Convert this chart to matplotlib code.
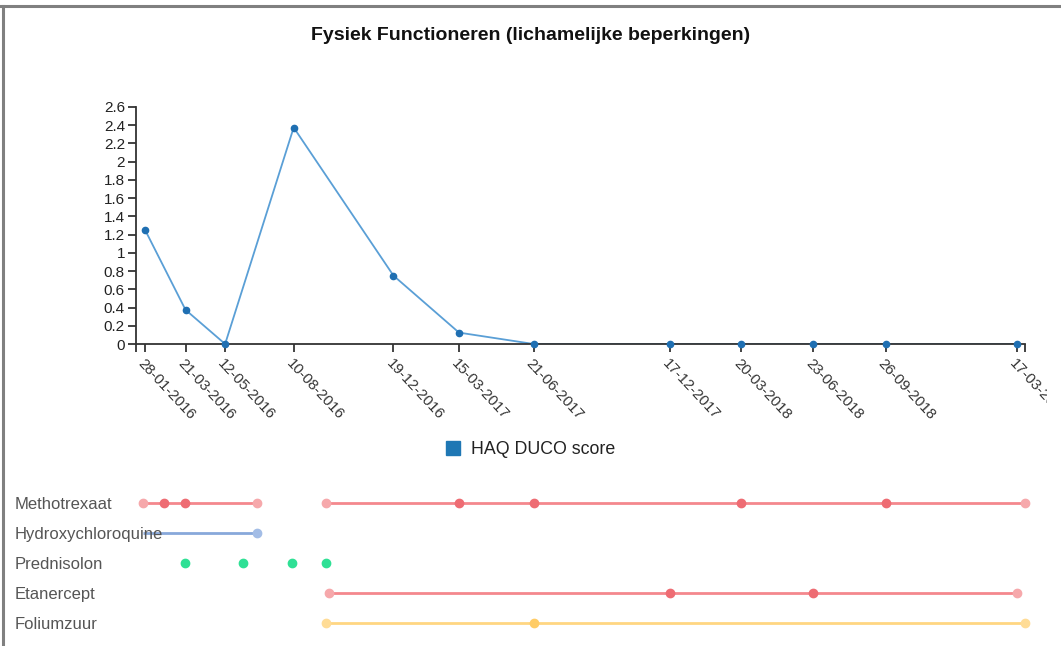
import matplotlib
matplotlib.use('Agg')
import matplotlib.pyplot as plt
from matplotlib.lines import Line2D
from matplotlib.transforms import Bbox, TransformedBbox
from datetime import datetime

plt.rcParams['font.family'] = ['Liberation Sans', 'DejaVu Sans']

# HAQ DUCO scores per visit
visitDates = ['28-01-2016', '21-03-2016', '12-05-2016', '10-08-2016', '19-12-2016', '15-03-2017',
              '21-06-2017', '17-12-2017', '20-03-2018', '23-06-2018', '26-09-2018', '17-03-2019']
haqScores = [1.25, 0.375, 0, 2.375, 0.75, 0.125, 0, 0, 0, 0, 0, 0]
yTicks = [0, 0.2, 0.4, 0.6, 0.8, 1, 1.2, 1.4, 1.6, 1.8, 2, 2.2, 2.4, 2.6]

# medication timelines
medications = ['Methotrexaat', 'Hydroxychloroquine', 'Prednisolon', 'Etanercept', 'Foliumzuur']
periods = {
    'Methotrexaat': [('25-01-2016', '23-06-2016'), ('22-09-2016', '28-03-2019')],
    'Hydroxychloroquine': [('25-01-2016', '23-06-2016')],
    'Prednisolon': [],
    'Etanercept': [('26-09-2016', '17-03-2019')],
    'Foliumzuur': [('22-09-2016', '28-03-2019')],
}
edgePoints = {
    'Methotrexaat': ['25-01-2016', '23-06-2016', '22-09-2016', '28-03-2019'],
    'Hydroxychloroquine': ['23-06-2016'],
    'Prednisolon': [],
    'Etanercept': ['26-09-2016', '17-03-2019'],
    'Foliumzuur': ['22-09-2016', '28-03-2019'],
}
changePoints = {
    'Methotrexaat': ['22-02-2016', '20-03-2016', '15-03-2017', '21-06-2017', '20-03-2018', '26-09-2018'],
    'Hydroxychloroquine': [],
    'Prednisolon': ['20-03-2016', '04-06-2016', '08-08-2016', '22-09-2016'],
    'Etanercept': ['17-12-2017', '23-06-2018'],
    'Foliumzuur': ['21-06-2017'],
}
lineColors = {'Methotrexaat': '#f4888d', 'Hydroxychloroquine': '#88a8da', 'Prednisolon': '#3ee39c',
              'Etanercept': '#f4888d', 'Foliumzuur': '#ffd682'}
lightColors = {'Methotrexaat': '#f6a8ab', 'Hydroxychloroquine': '#a3bde6', 'Prednisolon': '#3ee39c',
               'Etanercept': '#f6a8ab', 'Foliumzuur': '#ffdc96'}
darkColors = {'Methotrexaat': '#ee6c73', 'Hydroxychloroquine': '#6f93cf', 'Prednisolon': '#2fe095',
              'Etanercept': '#ee6c73', 'Foliumzuur': '#ffcc66'}

axisStart = '16-01-2016'
axisEnd = '28-03-2019'


def toDate(s):
    return datetime.strptime(s, '%d-%m-%Y')


W, H = 1061, 646
fig = plt.figure(figsize=(W / 100, H / 100), dpi=100)

# top chart
ax = fig.add_axes([136 / W, 1 - 344 / H, 889 / W, 237 / H])
xs = [toDate(d) for d in visitDates]
ax.plot(xs, haqScores, color='#5a9fd6', linewidth=1.3, zorder=2)
ax.plot(xs, haqScores, 'o', color='#1f6fb2', markersize=4.5, zorder=3, clip_on=False)
ax.set_xlim(toDate(axisStart), toDate(axisEnd))
ax.set_ylim(0, 2.6)
ax.set_yticks(yTicks)
ax.set_yticklabels([('%g' % v) for v in yTicks], fontsize=11, color='#222')
ax.set_xticks(xs)
ax.set_xticklabels(visitDates, fontsize=10.8, color='#333', rotation=-47,
                   ha='left', va='top', rotation_mode='anchor')
ax.set_xticks([toDate(axisStart), toDate(axisEnd)], minor=True)
ax.tick_params(axis='both', which='both', length=6, width=1.2, color='#222', pad=3)
ax.tick_params(axis='y', which='major', pad=2)
for side in ['top', 'right']:
    ax.spines[side].set_visible(False)
for side in ['left', 'bottom']:
    ax.spines[side].set_color('#333')
    ax.spines[side].set_linewidth(1.3)

# the last date label is cut off near the right edge, as in the original
clip = TransformedBbox(Bbox([[0, 0], [1047 / W, 1]]), fig.transFigure)
for lbl in ax.get_xticklabels():
    lbl.set_clip_on(True)
    lbl.set_clip_box(clip)

fig.text(531 / W, 1 - 36 / H, 'Fysiek Functioneren (lichamelijke beperkingen)',
         ha='center', va='center', fontsize=14, fontweight='bold', color='#111')

legendHandle = Line2D([], [], marker='s', color='#1f77b4', linestyle='', markersize=10)
fig.legend(handles=[legendHandle], labels=['HAQ DUCO score'], loc='center',
           bbox_to_anchor=(530 / W, 1 - 450 / H), frameon=False, fontsize=12.8,
           handlelength=1, handletextpad=0.5, labelcolor='#222')

# medication timelines
ax2 = fig.add_axes([136 / W, 1 - 638 / H, 889 / W, 150 / H])
ax2.set_xlim(toDate(axisStart), toDate(axisEnd))
ax2.set_ylim(len(medications) - 0.5, -0.5)
ax2.axis('off')
for i, med in enumerate(medications):
    for start, end in periods[med]:
        ax2.plot([toDate(start), toDate(end)], [i, i], color=lineColors[med], linewidth=2, zorder=2,
                 solid_capstyle='butt')
    if edgePoints[med]:
        ax2.plot([toDate(d) for d in edgePoints[med]], [i] * len(edgePoints[med]), 'o',
                 color=lightColors[med], markersize=6, zorder=3, clip_on=False)
    if changePoints[med]:
        ax2.plot([toDate(d) for d in changePoints[med]], [i] * len(changePoints[med]), 'o',
                 color=darkColors[med], markersize=6, zorder=3, clip_on=False)
    fig.text(15 / W, 1 - (503 + 30 * i + 6) / H, med, ha='left', va='baseline', fontsize=12,
             color='#555', zorder=5)

# frame border (top and left)
fig.add_artist(Line2D([0, 1], [1 - 5.5 / H, 1 - 5.5 / H], transform=fig.transFigure,
                      color='#808080', linewidth=2.2))
fig.add_artist(Line2D([2.5 / W, 2.5 / W], [0, 1 - 5.5 / H], transform=fig.transFigure,
                      color='#808080', linewidth=2.2))

fig.savefig('out.png', dpi=100)
